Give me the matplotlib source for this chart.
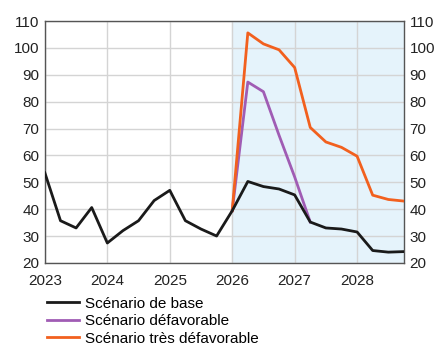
import numpy as np
import matplotlib.pyplot as plt

# quarterly data, 2023Q1 .. 2028Q4
quarters = 2023 + np.arange(24) * 0.25

base = [53.5, 35.7, 33.0, 40.6, 27.4, 32.0, 35.7, 43.2, 47.0, 35.7, 32.6, 30.0,
        39.4, 50.3, 48.4, 47.5, 45.3, 35.2, 33.0, 32.6, 31.5, 24.6, 24.0, 24.2]
adverse = [39.4, 87.3, 83.7, 67.5, 52.0, 35.2]
severe = [39.4, 105.6, 101.5, 99.3, 92.7, 70.4, 65.0, 63.0, 59.7, 45.2, 43.6, 43.0]

labels = ["Scénario de base", "Scénario défavorable", "Scénario très défavorable"]
colors = ["#1a1a1a", "#a05cb4", "#f2601e"]
years = [2023, 2024, 2025, 2026, 2027, 2028]

plt.rcParams['font.family'] = ['Liberation Sans', 'DejaVu Sans']

fig = plt.figure(figsize=(4.4, 3.45), dpi=100)
ax = fig.add_axes([0.102, 0.238, 0.816, 0.701])

ax.axvspan(2026, 2028.75, color="#e5f3fb", zorder=0)

ax.plot(quarters, base, color=colors[0], lw=2, label=labels[0], zorder=4)
ax.plot(quarters[12:18], adverse, color=colors[1], lw=2, label=labels[1], zorder=3)
ax.plot(quarters[12:], severe, color=colors[2], lw=2, label=labels[2], zorder=3)

ax.set_xlim(2023, 2028.75)
ax.set_ylim(20, 110)
ax.set_xticks(years)
ax.set_xticklabels([str(y) for y in years])
ax.set_yticks(range(20, 111, 10))
ax.grid(True, color="#d4d4d4", lw=1)
ax.set_axisbelow(True)
ax.tick_params(length=0, labelsize=11, colors="#222222", pad=4)
ax.tick_params(axis="x", pad=8)
ax.tick_params(axis="y", labelright=True, right=False)
for spine in ax.spines.values():
    spine.set_color("#555555")
    spine.set_linewidth(1)

ax.legend(loc="upper left", bbox_to_anchor=(-0.01, -0.115), frameon=False,
          fontsize=11, handlelength=2.1, handletextpad=0.35, labelspacing=0.22,
          borderaxespad=0)

fig.savefig("out.png", dpi=100)
